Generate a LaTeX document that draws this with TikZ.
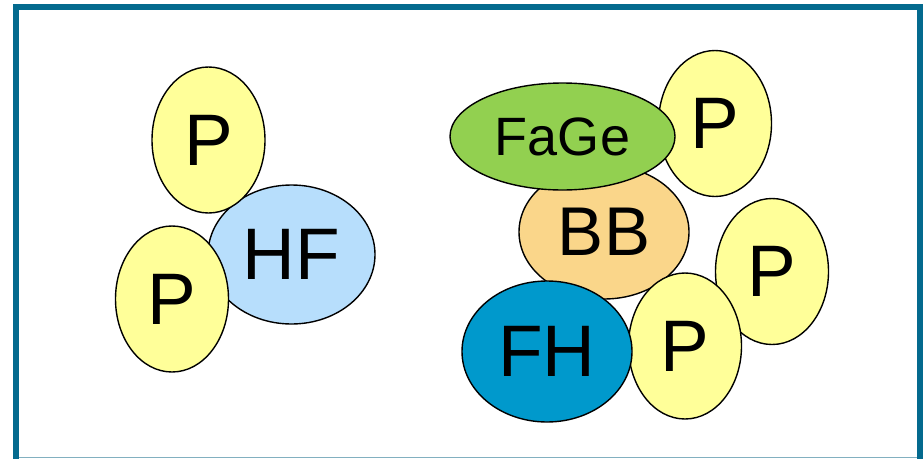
\documentclass[tikz,border=0pt]{standalone}
\usepackage{fontspec}
\setmainfont{Liberation Sans}
\usetikzlibrary{shapes.geometric}
\definecolor{frameblue}{RGB}{4,106,142}
\definecolor{frameline}{RGB}{130,176,192}
\definecolor{pyellow}{RGB}{255,255,153}
\definecolor{hfblue}{RGB}{183,222,252}
\definecolor{fagegreen}{RGB}{146,208,80}
\definecolor{bborange}{RGB}{250,214,138}
\definecolor{fhblue}{RGB}{0,153,204}
\tikzset{
  blob/.style={ellipse, draw=black, line width=1.4pt, inner sep=0pt, text=black},
  pblob/.style={blob, fill=pyellow, minimum width=113pt, minimum height=146pt,
    font=\fontsize{73}{73}\selectfont},
}
\begin{document}
\begin{tikzpicture}[x=1pt,y=-1pt]
\useasboundingbox (0,0) rectangle (923,458);
\clip (0,0) rectangle (923,458);
\fill[white] (0,0) rectangle (923,458);
% frame
\draw[frameblue, line width=6pt] (16,7) rectangle (920,466);
\draw[frameline, line width=1pt] (19,457.5) -- (917,457.5);
% left group
\node[blob, fill=hfblue, minimum width=167pt, minimum height=139pt,
  font=\fontsize{73}{73}\selectfont] (hf) at (291.5,254.5) {HF};
\node[pblob] (p1) at (208.5,140) {P};
\node[pblob] (p2) at (172,299) {P};
% right group
\node[blob, fill=bborange, minimum width=170pt, minimum height=134pt,
  font=\fontsize{69}{69}\selectfont] (bb) at (604,232) {BB};
\node[pblob] (p3) at (715,123.5) {P};
\node[blob, fill=fagegreen, minimum width=225pt, minimum height=107pt,
  font=\fontsize{54}{54}\selectfont] (fage) at (562.5,136.5) {FaGe};
\node[pblob] (p4) at (772,271.5) {P};
\node[pblob] (p5) at (685,346) {P};
\node[blob, fill=fhblue, minimum width=170pt, minimum height=141pt,
  font=\fontsize{73}{73}\selectfont, text depth=-5pt] (fh) at (547,351.5) {FH};
\end{tikzpicture}
\end{document}
